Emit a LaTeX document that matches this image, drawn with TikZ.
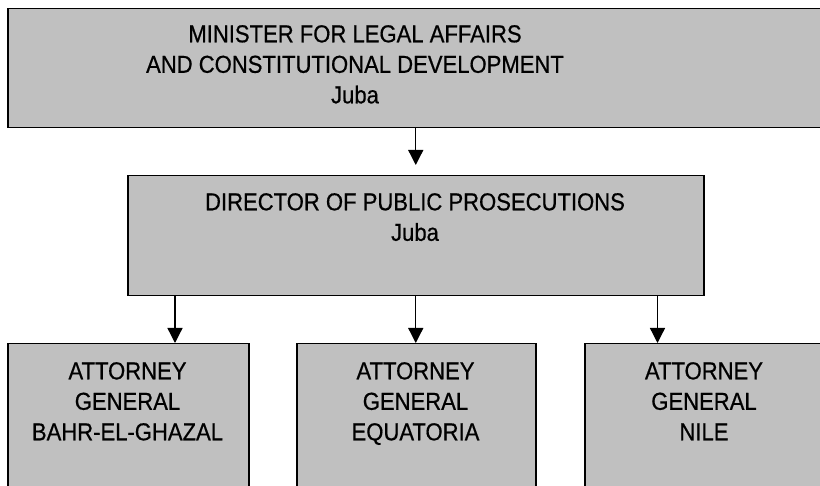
\documentclass[tikz,border=0pt]{standalone}
\usepackage{fontspec}
\setmainfont[FakeStretch=0.9, FakeBold=0.6]{Liberation Sans}
\usetikzlibrary{arrows.meta}

\definecolor{boxgray}{RGB}{192,192,192}

\tikzset{
  orgbox/.style={draw=black, line width=1.5pt, fill=boxgray, rectangle,
    inner sep=0pt, anchor=north west},
  boxtext/.style={align=center, inner sep=0pt, anchor=north,
    font=\fontsize{24.5}{30.5}\selectfont},
  link/.style={line width=1.3pt,
    -{Triangle[width=15pt,length=15pt]}}
}

\begin{document}
\begin{tikzpicture}[x=1pt, y=-1pt]
  \useasboundingbox (0,0) rectangle (820,486);
  \clip (0,0) rectangle (820,486);

  % ministry at the top
  \node[orgbox, minimum width=830pt, minimum height=119pt] (min) at (7,8) {};
  \node[boxtext] (mint) at (355,25)
    {MINISTER FOR LEGAL AFFAIRS\\AND CONSTITUTIONAL DEVELOPMENT\\Juba};

  % director of public prosecutions
  \node[orgbox, minimum width=576pt, minimum height=120pt] (dpp) at (127,175) {};
  \node[boxtext] (dppt) at (415,193) {DIRECTOR OF PUBLIC PROSECUTIONS\\Juba};

  % regional attorneys general
  \node[orgbox, minimum width=241pt, minimum height=160pt] (ag1) at (7,343) {};
  \node[orgbox, minimum width=239pt, minimum height=160pt] (ag2) at (296,343) {};
  \node[orgbox, minimum width=240pt, minimum height=160pt] (ag3) at (584,343) {};
  \node[boxtext] (ag1t) at (127.5,362) {ATTORNEY\\GENERAL\\BAHR-EL-GHAZAL};
  \node[boxtext] (ag2t) at (415.5,362) {ATTORNEY\\GENERAL\\EQUATORIA};
  \node[boxtext] (ag3t) at (704,362) {ATTORNEY\\GENERAL\\NILE};

  % reporting lines
  \draw[link, shorten >=10pt] (min.south -| dpp.north) -- (dpp.north);
  \draw[link] ([xshift=48pt]dpp.south west) -- ([xshift=48pt]dpp.south west |- ag1.north);
  \draw[link] (dpp.south) -- (dpp.south |- ag2.north);
  \draw[link] ([xshift=-47pt]dpp.south east) -- ([xshift=-47pt]dpp.south east |- ag3.north);
\end{tikzpicture}
\end{document}
